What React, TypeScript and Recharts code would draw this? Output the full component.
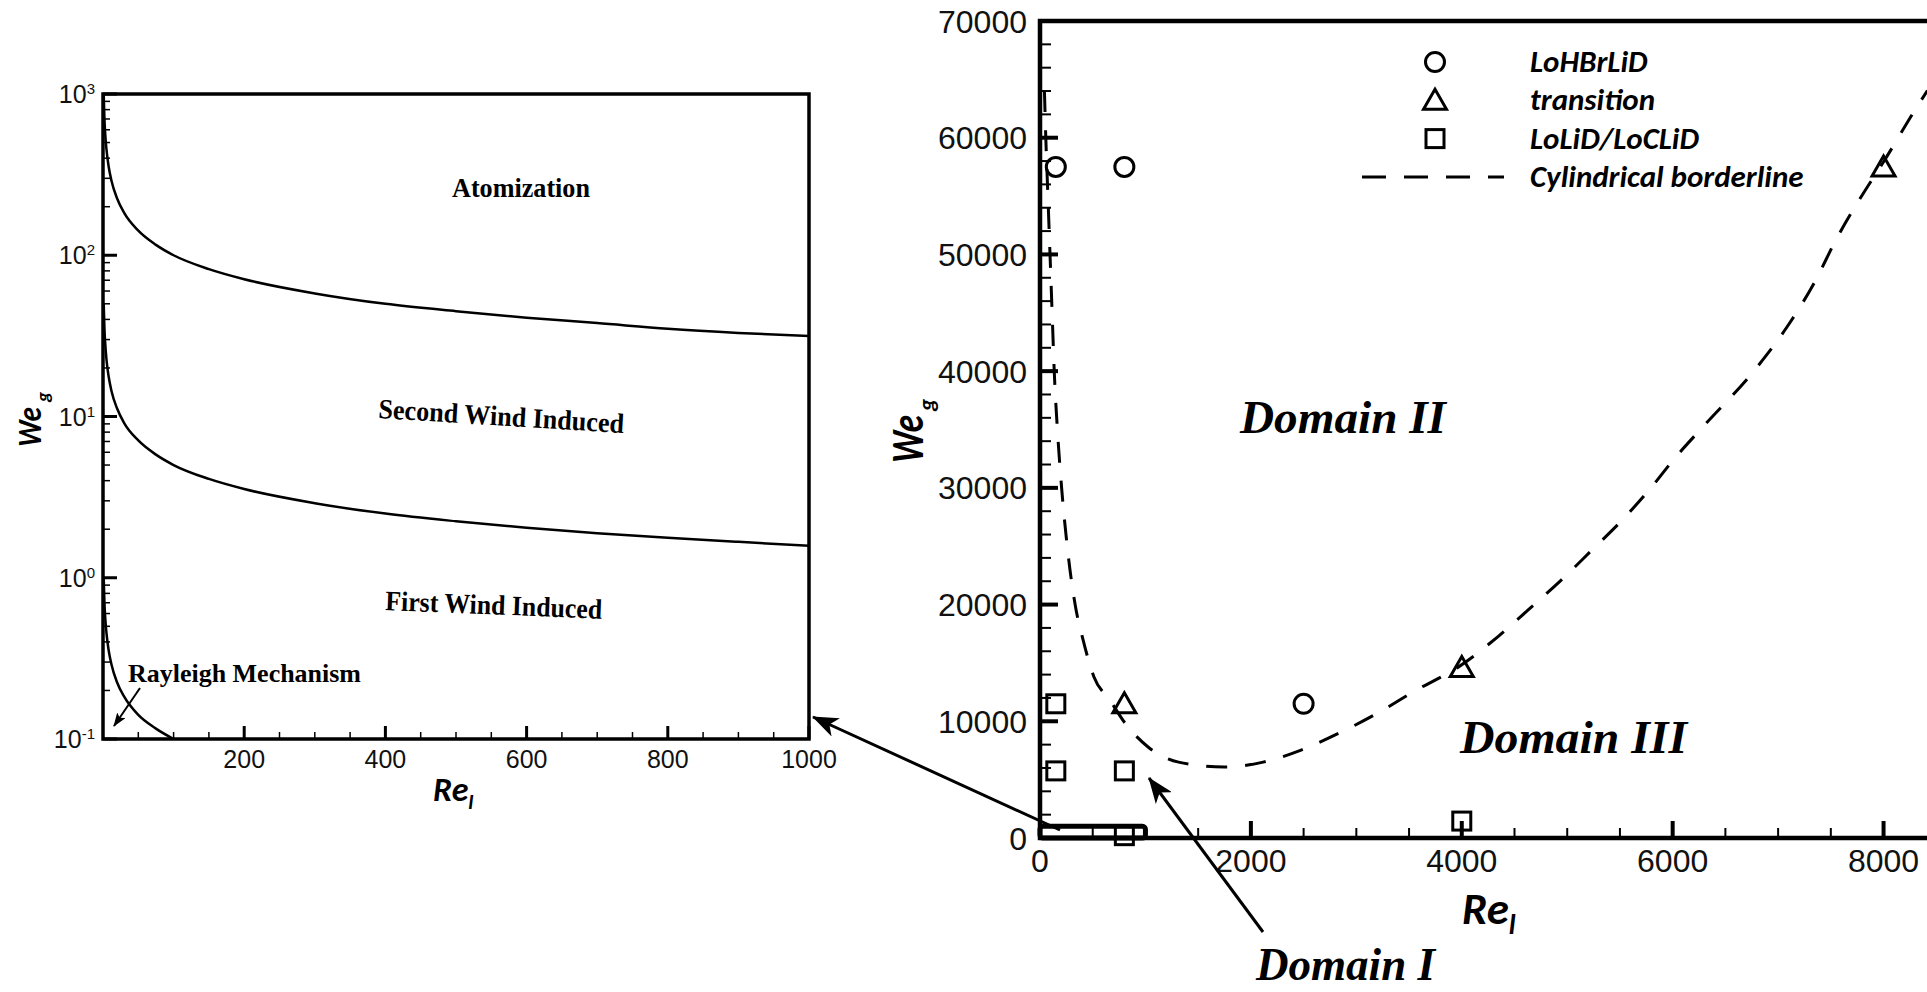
import React from 'react';
import {
  LineChart,
  Line,
  ComposedChart,
  Scatter,
  XAxis,
  YAxis,
  ReferenceArea,
  Legend,
} from 'recharts';

// ---- left panel: breakup regimes, log We_g against Re_l ----
const reSamples = [1, 2, 3, 5, 8, 12, 20, 30, 50, 75, 100, 150, 200, 300, 400, 500, 600, 700, 800, 900, 1000];
const atomizationWe = [1000, 710, 580, 450, 355, 290, 225, 183, 142, 116, 100, 82, 71, 58, 50, 45, 41, 38, 35, 33, 31.6];
const secondWindWe = [50, 35.5, 29, 22.4, 17.7, 14.4, 11.2, 9.1, 7.1, 5.8, 5.0, 4.1, 3.55, 2.9, 2.5, 2.24, 2.04, 1.89, 1.77, 1.67, 1.58];
const rayleighRe = [1, 2, 3, 5, 8, 12, 20, 30, 50, 75, 100];
const rayleighWe = [1.0, 0.71, 0.58, 0.45, 0.355, 0.29, 0.224, 0.183, 0.141, 0.116, 0.1];

const leftXTicks = [50, 100, 150, 200, 250, 300, 350, 400, 450, 500, 550, 600, 650, 700, 750, 800, 850, 900, 950, 1000];
const leftXLabels = [200, 400, 600, 800, 1000];
const leftYTicks = [
  0.1, 0.2, 0.3, 0.4, 0.5, 0.6, 0.7, 0.8, 0.9,
  1, 2, 3, 4, 5, 6, 7, 8, 9,
  10, 20, 30, 40, 50, 60, 70, 80, 90,
  100, 200, 300, 400, 500, 600, 700, 800, 900,
  1000,
];
const leftYMajor = [0.1, 1, 10, 100, 1000];
const leftYExp = ['-1', '0', '1', '2', '3'];

// ---- right panel: experiments and cylindrical borderline ----
const circlePts = [
  { re: 150, we: 57500 },
  { re: 800, we: 57500 },
  { re: 2500, we: 11500 },
];
const trianglePts = [
  { re: 800, we: 11500 },
  { re: 4000, we: 14600 },
  { re: 8000, we: 57500 },
];
const squarePts = [
  { re: 150, we: 11500 },
  { re: 150, we: 5750 },
  { re: 800, we: 5750 },
  { re: 800, we: 200 },
  { re: 4000, we: 1450 },
];
const borderRe = [42, 55, 75, 95, 115, 135, 165, 205, 258, 333, 408, 512, 664, 806, 1025, 1314, 1746, 2116, 2476, 2837, 3202, 3567, 3966, 4341, 4627, 4943, 5233, 5520, 5775, 6030, 6286, 6796, 7084, 7338, 7562, 7785, 8008, 8295, 8416];
const borderWe = [64000, 60000, 55000, 50000, 45000, 40000, 35000, 30000, 25000, 20000, 17000, 13800, 11800, 9850, 7800, 6500, 6080, 6500, 7530, 8990, 10700, 12670, 14640, 17240, 19520, 22090, 24660, 27230, 29800, 32650, 35220, 40300, 43780, 47490, 51480, 54900, 58050, 62330, 64040];

const rightXTicks = [0, 500, 1000, 1500, 2000, 2500, 3000, 3500, 4000, 4500, 5000, 5500, 6000, 6500, 7000, 7500, 8000, 8500, 9000];
const rightXLabels = [0, 2000, 4000, 6000, 8000];
const rightYTicks = [
  0, 2000, 4000, 6000, 8000, 10000, 12000, 14000, 16000, 18000, 20000, 22000, 24000, 26000, 28000, 30000,
  32000, 34000, 36000, 38000, 40000, 42000, 44000, 46000, 48000, 50000, 52000, 54000, 56000, 58000, 60000,
  62000, 64000, 66000, 68000, 70000,
];
const rightYLabels = [0, 10000, 20000, 30000, 40000, 50000, 60000, 70000];

const legendItems = [
  { kind: 'circle', label: 'LoHBrLiD' },
  { kind: 'triangle', label: 'transition' },
  { kind: 'square', label: 'LoLiD/LoCLiD' },
  { kind: 'dash', label: 'Cylindrical borderline' },
];

const atomization = reSamples.map((re, i) => ({ re, we: atomizationWe[i] }));
const secondWind = reSamples.map((re, i) => ({ re, we: secondWindWe[i] }));
const rayleigh = rayleighRe.map((re, i) => ({ re, we: rayleighWe[i] }));
const border = borderRe.map((re, i) => ({ re, we: borderWe[i] }));

const sans = '"Liberation Sans", Arial, sans-serif';
const serif = '"Liberation Serif", "Times New Roman", serif';
const titleFont = 'Carlito, Lato, "Open Sans", sans-serif';
const DASH = '21 18';

function marker(kind: string, cx: number, cy: number) {
  if (kind === 'circle') {
    return <circle cx={cx} cy={cy} r={9.5} fill="none" stroke="#000" strokeWidth={3} />;
  }
  if (kind === 'triangle') {
    const pts = `${cx},${cy - 11} ${cx + 11.5},${cy + 9} ${cx - 11.5},${cy + 9}`;
    return <polygon points={pts} fill="none" stroke="#000" strokeWidth={3} strokeLinejoin="miter" />;
  }
  return <rect x={cx - 9} y={cy - 9} width={18} height={18} fill="none" stroke="#000" strokeWidth={3} />;
}

// ticks point into the plot; x/y arrive at the axis line because tickSize and tickMargin are 0
const LeftYTick = (props: any) => {
  const { x, y, payload } = props;
  const i = leftYMajor.indexOf(payload.value);
  if (i < 0) return <line x1={x} x2={x + 7} y1={y} y2={y} stroke="#000" strokeWidth={1.5} />;
  return (
    <g>
      <line x1={x} x2={x + 14} y1={y} y2={y} stroke="#000" strokeWidth={3} />
      <text x={x - 8} y={y + 9} textAnchor="end" fontFamily={sans} fontSize={25} fill="#111">
        10<tspan dy={-9} fontSize={15}>{leftYExp[i]}</tspan>
      </text>
    </g>
  );
};

const LeftXTick = (props: any) => {
  const { x, y, payload } = props;
  const major = leftXLabels.includes(payload.value);
  return (
    <g>
      <line x1={x} x2={x} y1={y} y2={y - (major ? 13 : 7)} stroke="#000" strokeWidth={major ? 3 : 1.5} />
      {major && (
        <text x={x} y={y + 29} textAnchor="middle" fontFamily={sans} fontSize={25} fill="#111">
          {payload.value}
        </text>
      )}
    </g>
  );
};

const RightYTick = (props: any) => {
  const { x, y, payload } = props;
  const major = rightYLabels.includes(payload.value);
  return (
    <g>
      <line x1={x} x2={x + (major ? 18 : 11)} y1={y} y2={y} stroke="#000" strokeWidth={major ? 4 : 2} />
      {major && (
        <text x={x - 13} y={y + 11.5} textAnchor="end" fontFamily={sans} fontSize={32} fill="#111">
          {payload.value}
        </text>
      )}
    </g>
  );
};

const RightXTick = (props: any) => {
  const { x, y, payload } = props;
  const major = rightXLabels.includes(payload.value);
  return (
    <g>
      <line x1={x} x2={x} y1={y} y2={y - (major ? 17 : 10)} stroke="#000" strokeWidth={major ? 4 : 2} />
      {major && (
        <text x={x} y={y + 34} textAnchor="middle" fontFamily={sans} fontSize={32} fill="#111">
          {payload.value}
        </text>
      )}
    </g>
  );
};

const LegendBox = () => (
  <svg width={520} height={160} style={{ display: 'block' }}>
    {legendItems.map((item, i) => {
      const cy = 22 + i * 38.3;
      return (
        <g key={item.label}>
          {item.kind === 'dash' ? (
            <line x1={0} x2={142} y1={cy} y2={cy} stroke="#000" strokeWidth={3} strokeDasharray="24 18" />
          ) : (
            marker(item.kind, 73, cy)
          )}
          <text x={168} y={cy + 10} fontFamily={titleFont} fontWeight="bold" fontStyle="italic" fontSize={31} fill="#000">
            {item.label}
          </text>
        </g>
      );
    })}
  </svg>
);

export default function App() {
  return (
    <div style={{ position: 'relative', width: 1927, height: 992, overflow: 'hidden', background: '#fff' }}>
      <style>{'body{margin:0;}'}</style>

      <div style={{ position: 'absolute', left: 0, top: 0 }}>
        <LineChart width={860} height={820} margin={{ top: 94, right: 51, bottom: 0, left: 0 }}>
          <XAxis
            type="number"
            dataKey="re"
            domain={[0, 1000]}
            ticks={leftXTicks}
            interval={0}
            tickSize={0}
            tickMargin={0}
            axisLine={false}
            tick={LeftXTick}
            height={81}
            allowDataOverflow
          />
          <YAxis
            type="number"
            dataKey="we"
            scale="log"
            domain={[0.1, 1000]}
            ticks={leftYTicks}
            interval={0}
            tickSize={0}
            tickMargin={0}
            axisLine={false}
            tick={LeftYTick}
            width={103}
            allowDataOverflow
          />
          <ReferenceArea x1={0} x2={1000} y1={0.1} y2={1000} fill="none" stroke="#000" strokeWidth={3.5} ifOverflow="visible" />
          <Line data={atomization} dataKey="we" type="monotone" stroke="#000" strokeWidth={2.5} dot={false} isAnimationActive={false} />
          <Line data={secondWind} dataKey="we" type="monotone" stroke="#000" strokeWidth={2.5} dot={false} isAnimationActive={false} />
          <Line data={rayleigh} dataKey="we" type="monotone" stroke="#000" strokeWidth={2.5} dot={false} isAnimationActive={false} />
        </LineChart>
      </div>

      <div style={{ position: 'absolute', left: 880, top: 0 }}>
        <ComposedChart width={1109} height={992} margin={{ top: 21, right: 0, bottom: 0, left: 0 }}>
          <XAxis
            type="number"
            dataKey="re"
            domain={[0, 9000]}
            ticks={rightXTicks}
            interval={0}
            tickSize={0}
            tickMargin={0}
            axisLine={false}
            tick={RightXTick}
            height={154}
          />
          <YAxis
            type="number"
            dataKey="we"
            domain={[0, 70000]}
            ticks={rightYTicks}
            interval={0}
            tickSize={0}
            tickMargin={0}
            axisLine={false}
            tick={RightYTick}
            width={160}
          />
          <ReferenceArea x1={0} x2={9000} y1={0} y2={70000} fill="none" stroke="#000" strokeWidth={4.5} ifOverflow="visible" />
          <ReferenceArea x1={0} x2={1000} y1={0} y2={1000} fill="none" stroke="#000" strokeWidth={5} radius={3} ifOverflow="visible" />
          <Line data={border} dataKey="we" type="monotone" stroke="#000" strokeWidth={3} strokeDasharray={DASH} dot={false} isAnimationActive={false} />
          <Scatter data={circlePts} shape={(p: any) => marker('circle', p.cx, p.cy)} isAnimationActive={false} />
          <Scatter data={trianglePts} shape={(p: any) => marker('triangle', p.cx, p.cy)} isAnimationActive={false} />
          <Scatter data={squarePts} shape={(p: any) => marker('square', p.cx, p.cy)} isAnimationActive={false} />
          <Legend
            layout="horizontal"
            verticalAlign="middle"
            align="center"
            content={() => <LegendBox />}
            wrapperStyle={{ position: 'absolute', left: 482, top: 40, width: 520, height: 160, margin: 0, padding: 0 }}
          />
        </ComposedChart>
      </div>

      {/* annotations: region names, axis titles, arrows */}
      <svg width={1927} height={992} style={{ position: 'absolute', left: 0, top: 0, pointerEvents: 'none' }}>
        <defs>
          <marker id="headBig" viewBox="0 0 26 20" refX="25" refY="10" markerWidth="26" markerHeight="20" orient="auto" markerUnits="userSpaceOnUse">
            <path d="M0,0 L26,10 L0,20 L7,10 Z" fill="#000" />
          </marker>
          <marker id="headSmall" viewBox="0 0 14 10" refX="13" refY="5" markerWidth="14" markerHeight="10" orient="auto" markerUnits="userSpaceOnUse">
            <path d="M0,0 L14,5 L0,10 L3,5 Z" fill="#000" />
          </marker>
        </defs>

        <line x1={1060} y1={830} x2={813} y2={717} stroke="#000" strokeWidth={3} markerEnd="url(#headBig)" />
        <line x1={1263} y1={932} x2={1149} y2={778} stroke="#000" strokeWidth={3} markerEnd="url(#headBig)" />
        <line x1={140} y1={688} x2={114} y2={726} stroke="#000" strokeWidth={2} markerEnd="url(#headSmall)" />

        <g fontFamily={serif} fontWeight="bold" fill="#000">
          <text x={452} y={197} fontSize={28} textLength={138} lengthAdjust="spacingAndGlyphs">Atomization</text>
          <text transform="translate(378,418) rotate(3.5)" fontSize={28} textLength={246} lengthAdjust="spacingAndGlyphs">
            Second Wind Induced
          </text>
          <text transform="translate(385,610) rotate(2.3)" fontSize={28} textLength={217} lengthAdjust="spacingAndGlyphs">
            First Wind Induced
          </text>
          <text x={128} y={682} fontSize={26} textLength={233} lengthAdjust="spacingAndGlyphs">Rayleigh Mechanism</text>
        </g>

        <g fontFamily={serif} fontWeight="bold" fontStyle="italic" fill="#000" fontSize={47}>
          <text x={1240} y={433} textLength={206} lengthAdjust="spacingAndGlyphs">Domain II</text>
          <text x={1460} y={753} textLength={227} lengthAdjust="spacingAndGlyphs">Domain III</text>
          <text x={1256} y={980} textLength={179} lengthAdjust="spacingAndGlyphs">Domain I</text>
        </g>

        <g fontFamily={titleFont} fontWeight="bold" fontStyle="italic" fill="#000">
          <text transform="translate(41,447) rotate(-90)" fontSize={35} textLength={40} lengthAdjust="spacingAndGlyphs">We</text>
          <text transform="translate(49,402) rotate(-90)" fontSize={19}>g</text>
          <text x={433} y={801} fontSize={34}>
            Re<tspan fontSize={21} dy={8}>l</tspan>
          </text>
          <text transform="translate(923,463) rotate(-90)" fontSize={46} textLength={48} lengthAdjust="spacingAndGlyphs">We</text>
          <text transform="translate(934,411) rotate(-90)" fontSize={23}>g</text>
          <text x={1462} y={924} fontSize={45}>
            Re<tspan fontSize={28} dy={10}>l</tspan>
          </text>
        </g>
      </svg>
    </div>
  );
}
